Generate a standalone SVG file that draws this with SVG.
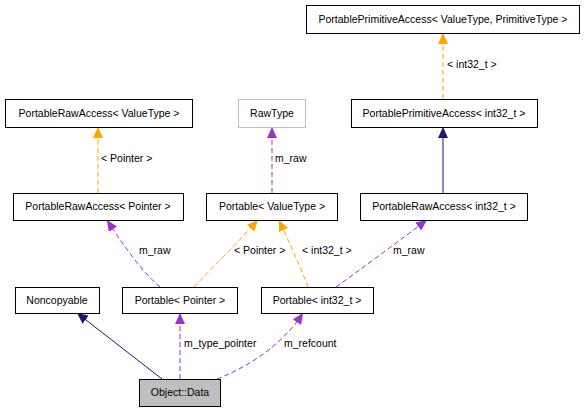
<svg xmlns="http://www.w3.org/2000/svg" width="587" height="413" viewBox="0 0 587 413">
<style>
text{font-family:"Liberation Sans",Arial,sans-serif;font-size:10.5px;fill:#000}
.box rect{fill:#fff;stroke:#000;stroke-width:1}
.box text{text-anchor:middle}
.ext rect{stroke:#bfbfbf}
.cur rect{fill:#bfbfbf}
.e{fill:none}
.or{stroke:#ffa500;stroke-dasharray:5,3}
.pu{stroke:#9a32cd;stroke-dasharray:5,3}
.nv{stroke:#191970}
</style>
<defs>
<marker id="ao" markerUnits="userSpaceOnUse" markerWidth="12" markerHeight="10" refX="11" refY="5" orient="auto"><path d="M0,0 L11,5 L0,10 z" fill="#ffa500"/></marker>
<marker id="ap" markerUnits="userSpaceOnUse" markerWidth="12" markerHeight="10" refX="11" refY="5" orient="auto"><path d="M0,0 L11,5 L0,10 z" fill="#9a32cd"/></marker>
<marker id="an" markerUnits="userSpaceOnUse" markerWidth="12" markerHeight="10" refX="11" refY="5" orient="auto"><path d="M0,0 L11,5 L0,10 z" fill="#191970"/></marker>
</defs>
<g id="connectors">
<path class="e or" d="M443,99 L443,33" marker-end="url(#ao)"/>
<text x="447" y="68">&lt; int32_t &gt;</text>
<path class="e nv" d="M443,193 L443,127" marker-end="url(#an)"/>
<path class="e or" d="M98,193 L98,127" marker-end="url(#ao)"/>
<text x="101" y="162">&lt; Pointer &gt;</text>
<path class="e pu" d="M272,193 L272,127" marker-end="url(#ap)"/>
<text x="275" y="162">m_raw</text>
<path class="e pu" d="M160,287 C140,270 120,240 107,220" marker-end="url(#ap)"/>
<text x="139" y="254">m_raw</text>
<path class="e or" d="M194,287 C215,265 240,240 258,220" marker-end="url(#ao)"/>
<text x="234" y="254">&lt; Pointer &gt;</text>
<path class="e or" d="M308,287 C300,265 288,240 279,220" marker-end="url(#ao)"/>
<text x="302" y="254">&lt; int32_t &gt;</text>
<path class="e pu" d="M336,287 C360,270 400,240 427,220" marker-end="url(#ap)"/>
<text x="393" y="254">m_raw</text>
<path class="e nv" d="M162,379 L77,313" marker-end="url(#an)"/>
<path class="e pu" d="M180,379 L180,313" marker-end="url(#ap)"/>
<text x="184" y="347">m_type_pointer</text>
<path class="e pu" d="M217,379 C245,368 280,348 303,313" marker-end="url(#ap)"/>
<text x="284" y="347">m_refcount</text>
</g>
<g id="ppa_vt_pt" class="box"><rect x="306.500" y="5.500" width="273" height="28"/><text x="443" y="23">PortablePrimitiveAccess&lt; ValueType, PrimitiveType &gt;</text></g>
<g id="ppa_int32" class="box"><rect x="351.500" y="99.500" width="186" height="28"/><text x="444" y="117">PortablePrimitiveAccess&lt; int32_t &gt;</text></g>
<g id="pra_vt" class="box"><rect x="5.500" y="99.500" width="187" height="28"/><text x="99" y="117">PortableRawAccess&lt; ValueType &gt;</text></g>
<g id="rawtype" class="box ext"><rect x="238.500" y="99.500" width="67" height="28"/><text x="272" y="117">RawType</text></g>
<g id="pra_pointer" class="box"><rect x="13.500" y="193.500" width="170" height="27"/><text x="98" y="210">PortableRawAccess&lt; Pointer &gt;</text></g>
<g id="portable_vt" class="box"><rect x="206.500" y="193.500" width="131" height="27"/><text x="272" y="210">Portable&lt; ValueType &gt;</text></g>
<g id="pra_int32" class="box"><rect x="360.500" y="193.500" width="167" height="27"/><text x="444" y="210">PortableRawAccess&lt; int32_t &gt;</text></g>
<g id="noncopyable" class="box"><rect x="15.500" y="287.500" width="84" height="26"/><text x="57" y="304">Noncopyable</text></g>
<g id="portable_pointer" class="box"><rect x="122.500" y="287.500" width="115" height="26"/><text x="180" y="304">Portable&lt; Pointer &gt;</text></g>
<g id="portable_int32" class="box"><rect x="261.500" y="287.500" width="112" height="26"/><text x="317" y="304">Portable&lt; int32_t &gt;</text></g>
<g id="object_data" class="box cur"><rect x="139.500" y="379.500" width="81" height="27"/><text x="180" y="396">Object::Data</text></g>
</svg>
